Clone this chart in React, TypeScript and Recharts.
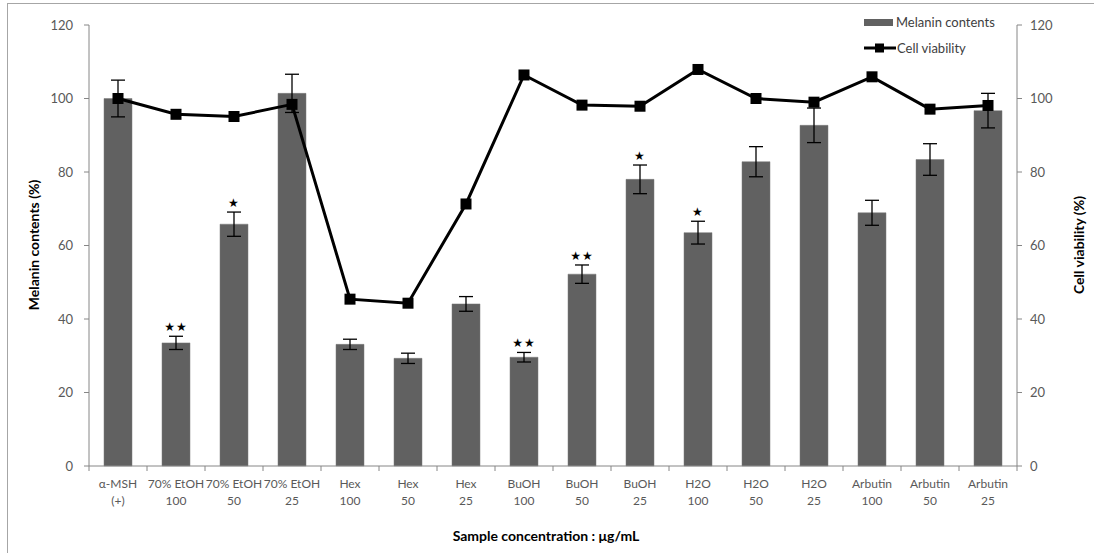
import { ComposedChart, Bar, Line, Scatter, XAxis, YAxis, ErrorBar } from 'recharts';

const samples = ['α-MSH', '70% EtOH', '70% EtOH', '70% EtOH', 'Hex', 'Hex', 'Hex', 'BuOH', 'BuOH', 'BuOH', 'H2O', 'H2O', 'H2O', 'Arbutin', 'Arbutin', 'Arbutin'];
const doses = ['(+)', '100', '50', '25', '100', '50', '25', '100', '50', '25', '100', '50', '25', '100', '50', '25'];
const melanin = [100, 33.5, 65.8, 101.4, 33.1, 29.3, 44.1, 29.6, 52.2, 78.0, 63.5, 82.8, 92.7, 68.9, 83.4, 96.7];
const melaninErr = [5, 1.8, 3.3, 5.2, 1.4, 1.4, 2, 1.3, 2.5, 3.9, 3.1, 4.1, 4.7, 3.4, 4.3, 4.7];
const viability = [100, 95.7, 95.1, 98.4, 45.4, 44.3, 71.3, 106.4, 98.2, 97.9, 107.9, 100, 99.0, 105.9, 97.1, 98.1];
const stars = ['', '**', '*', '', '', '', '', '**', '**', '*', '*', '', '', '', '', ''];
const yTicks = [0, 20, 40, 60, 80, 100, 120];

const data = samples.map((s, i) => ({
  name: s + ' ' + doses[i],
  sample: s,
  dose: doses[i],
  melanin: melanin[i],
  melaninErr: melaninErr[i],
  viability: viability[i],
  star: stars[i],
  starY: melanin[i] + melaninErr[i],
}));

const FONT = 'Lato, "Open Sans", sans-serif';
const GREY = '#595959';
const AXIS = '#868686';

const CategoryTick = (props: any) => {
  const { x, y, payload, index } = props;
  const half = payload && payload.offset ? payload.offset : 29;
  const d = data[index] || data[0];
  return (
    <g>
      <line x1={x - half} y1={y - 8} x2={x - half} y2={y - 3} stroke={AXIS} />
      {index === data.length - 1 && <line x1={x + half} y1={y - 8} x2={x + half} y2={y - 3} stroke={AXIS} />}
      <text x={x} y={y} textAnchor="middle" fontFamily={FONT} fontSize={12} fill={GREY}>
        <tspan x={x} dy={14}>{d.sample}</tspan>
        <tspan x={x} dy={17}>{d.dose}</tspan>
      </text>
    </g>
  );
};

const SquareDot = (props: any) => {
  const { cx, cy } = props;
  if (cx == null || cy == null) return <g />;
  return <rect x={cx - 5.5} y={cy - 5.5} width={11} height={11} fill="#000" />;
};

const StarMark = (props: any) => {
  const { cx, cy, payload } = props;
  if (!payload || !payload.star) return <g />;
  const txt = payload.star === '**' ? '★★' : '★';
  return (
    <text x={cx} y={cy - 5} textAnchor="middle" fontFamily="DejaVu Sans" fontSize={12} fill="#000" letterSpacing={1}>
      {txt}
    </text>
  );
};

export default function App() {
  return (
    <div style={{ position: 'absolute', left: 0, top: 0, width: 1094, height: 553, background: '#fff', overflow: 'hidden' }}>
      <div style={{ position: 'absolute', left: 7, top: 3, width: 1200, height: 700, border: '1px solid #a6a6a6' }} />
      <ComposedChart
        width={1094}
        height={553}
        data={data}
        margin={{ top: 25, right: 0, left: 0, bottom: 37 }}
        style={{ position: 'absolute', left: 0, top: 0 }}
      >
        <XAxis
          dataKey="name"
          stroke={AXIS}
          height={50}
          tickLine={false}
          tickSize={6}
          tickMargin={2}
          interval={0}
          tick={<CategoryTick />}
        />
        <YAxis
          yAxisId="left"
          width={89}
          domain={[0, 120]}
          ticks={yTicks}
          stroke={AXIS}
          tickSize={5}
          tickMargin={11}
          tick={{ fill: GREY, fontFamily: FONT, fontSize: 13 }}
        />
        <YAxis
          yAxisId="right"
          orientation="right"
          width={77}
          domain={[0, 120]}
          ticks={yTicks}
          stroke={AXIS}
          tickSize={5}
          tickMargin={8}
          tick={{ fill: GREY, fontFamily: FONT, fontSize: 13, textAnchor: 'start' }}
        />
        <Bar yAxisId="left" dataKey="melanin" barSize={28} fill="#616161" stroke="#7a7a7a" strokeWidth={0.5} isAnimationActive={false}>
          <ErrorBar dataKey="melaninErr" width={7} stroke="#000" strokeWidth={1.3} direction="y" />
        </Bar>
        <Line
          yAxisId="right"
          dataKey="viability"
          stroke="#000"
          strokeWidth={3}
          dot={<SquareDot />}
          activeDot={false}
          isAnimationActive={false}
        />
        <Scatter yAxisId="left" dataKey="starY" shape={<StarMark />} isAnimationActive={false} />
      </ComposedChart>
      <div style={{ position: 'absolute', left: 864, top: 9, fontFamily: FONT, fontSize: 13, color: '#404040', lineHeight: '26px' }}>
        <div style={{ display: 'flex', alignItems: 'center' }}>
          <span style={{ display: 'inline-block', width: 29, height: 7, background: '#616161', marginRight: 3 }} />
          Melanin contents
        </div>
        <div style={{ display: 'flex', alignItems: 'center' }}>
          <svg width={32} height={12} style={{ marginRight: 1 }}>
            <line x1={0} y1={6} x2={32} y2={6} stroke="#000" strokeWidth={3} />
            <rect x={11} y={1.5} width={9} height={9} fill="#000" />
          </svg>
          Cell viability
        </div>
      </div>
      <div
        style={{
          position: 'absolute', left: 33, top: 245, transform: 'translate(-50%, -50%) rotate(-90deg)',
          fontFamily: FONT, fontWeight: 700, fontSize: 14, color: '#000', whiteSpace: 'nowrap',
        }}
      >
        Melanin contents (%)
      </div>
      <div
        style={{
          position: 'absolute', left: 1078, top: 245, transform: 'translate(-50%, -50%) rotate(-90deg)',
          fontFamily: FONT, fontWeight: 700, fontSize: 14, color: '#000', whiteSpace: 'nowrap',
        }}
      >
        Cell viability (%)
      </div>
      <div
        style={{
          position: 'absolute', left: 546, top: 535, transform: 'translate(-50%, -50%)',
          fontFamily: FONT, fontWeight: 700, fontSize: 14, color: '#000', whiteSpace: 'nowrap',
        }}
      >
        Sample concentration : μg/mL
      </div>
    </div>
  );
}
